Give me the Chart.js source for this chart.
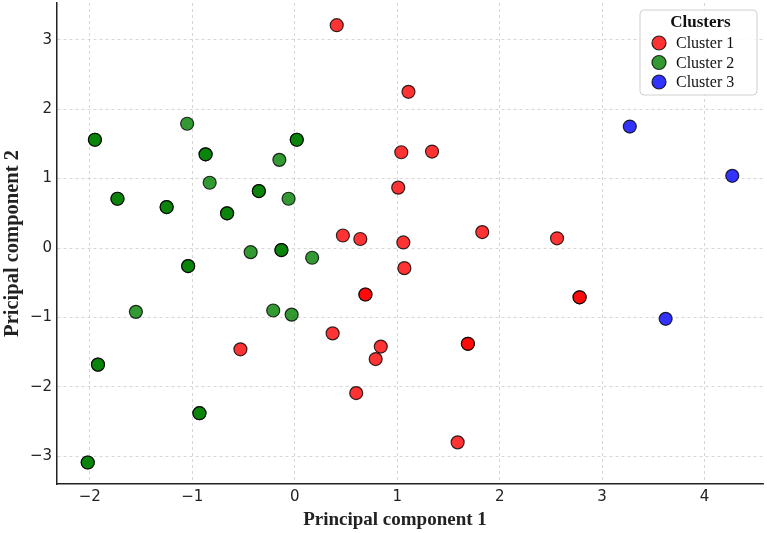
<!DOCTYPE html>
<html>
<head>
<meta charset="utf-8">
<script src="https://cdn.jsdelivr.net/npm/chart.js@4/dist/chart.umd.min.js"></script>
<style>
html,body{margin:0;padding:0;background:#fff;}
#wrap{width:767px;height:533px;position:relative;}
</style>
</head>
<body>
<div id="wrap"><canvas id="c" width="767" height="533"></canvas></div>
<script>
// Data (points that appear darker in the reference are overlapping duplicates)
const clusterLabels = ['Cluster 1', 'Cluster 2', 'Cluster 3'];
const cluster1X = [0.41, 1.11, 1.04, 1.34, 1.01, 0.47, 0.64, 1.06, 1.83, 2.56, 1.07, 0.37, 0.84, 0.79, 0.60, 1.59, -0.53, 0.69, 0.69, 2.78, 2.78, 1.69, 1.69];
const cluster1Y = [3.21, 2.25, 1.38, 1.39, 0.87, 0.18, 0.13, 0.08, 0.23, 0.14, -0.29, -1.23, -1.42, -1.60, -2.09, -2.80, -1.46, -0.67, -0.67, -0.71, -0.71, -1.38, -1.38];
const cluster2X = [-1.95, -1.95, -0.87, -0.87, 0.02, 0.02, -1.73, -1.73, -0.35, -0.35, -1.25, -1.25, -0.66, -0.66, -0.13, -0.13, -1.04, -1.04, -1.92, -1.92, -0.93, -0.93, -2.02, -2.02, -1.05, -0.15, -0.83, -0.06, -0.43, 0.17, -1.55, -0.21, -0.03];
const cluster2Y = [1.56, 1.56, 1.35, 1.35, 1.56, 1.56, 0.71, 0.71, 0.82, 0.82, 0.59, 0.59, 0.50, 0.50, -0.03, -0.03, -0.26, -0.26, -1.68, -1.68, -2.38, -2.38, -3.09, -3.09, 1.79, 1.27, 0.94, 0.71, -0.06, -0.14, -0.92, -0.90, -0.96];
const cluster3X = [3.27, 4.27, 3.62];
const cluster3Y = [1.75, 1.04, -1.02];
const xTicks = [-2, -1, 0, 1, 2, 3, 4];
const yTicks = [-3, -2, -1, 0, 1, 2, 3];
const xTitle = 'Principal component 1';
const yTitle = 'Pricipal component 2';
const legendTitle = 'Clusters';

const fills = ['rgba(255,0,0,0.8)', 'rgba(0,128,0,0.8)', 'rgba(0,0,255,0.8)'];
function pts(xs, ys){ return xs.map((x,i)=>({x:x, y:ys[i]})); }
const allX = [cluster1X, cluster2X, cluster3X];
const allY = [cluster1Y, cluster2Y, cluster3Y];

const datasets = clusterLabels.map((lab,i)=>({
  label: lab,
  data: pts(allX[i], allY[i]),
  backgroundColor: fills[i],
  borderColor: 'rgba(0,0,0,0.8)',
  borderWidth: 1.2,
  pointRadius: 6.5,
  pointHoverRadius: 6.5
}));

const minus = v => String(v).replace('-', '\u2212');

const legendBox = {
  id: 'legendBox',
  afterDraw(chart){
    const ctx = chart.ctx, a = chart.chartArea;
    const w = 117, h = 85;
    const x0 = a.right - w - 6, y0 = a.top + 7;
    ctx.save();
    ctx.beginPath();
    ctx.roundRect(x0, y0, w, h, 4);
    ctx.fillStyle = 'rgba(255,255,255,0.85)';
    ctx.fill();
    ctx.strokeStyle = '#cfcfcf';
    ctx.lineWidth = 1;
    ctx.stroke();
    ctx.fillStyle = '#111';
    ctx.font = 'bold 17px "Liberation Serif", serif';
    ctx.textAlign = 'center';
    ctx.textBaseline = 'middle';
    ctx.fillText(legendTitle, x0 + w/2 + 2, y0 + 13);
    ctx.font = '16px "Liberation Serif", serif';
    ctx.textAlign = 'left';
    chart.data.datasets.forEach((ds,i)=>{
      const cy = y0 + 33 + i*19.5;
      ctx.beginPath();
      ctx.arc(x0 + 19, cy, 7, 0, Math.PI*2);
      ctx.fillStyle = ds.backgroundColor;
      ctx.fill();
      ctx.strokeStyle = ds.borderColor;
      ctx.lineWidth = 1.2;
      ctx.stroke();
      ctx.fillStyle = '#111';
      ctx.fillText(ds.label, x0 + 36, cy + 1);
    });
    // x-axis title (slightly left of centre, as in the reference)
    ctx.font = 'bold 19px "Liberation Serif", serif';
    ctx.textAlign = 'center';
    ctx.fillStyle = '#222';
    ctx.fillText(xTitle, (a.left + a.right)/2 - 15, a.bottom + 36);
    ctx.restore();
  }
};

function noPad(s){ s.paddingTop = 0; s.paddingBottom = 0; s.paddingLeft = 0; s.paddingRight = 0; }

new Chart(document.getElementById('c'), {
  type: 'scatter',
  data: { datasets },
  plugins: [legendBox],
  options: {
    responsive: false,
    animation: false,
    layout: { autoPadding: false, padding: { top: 3, right: 4, left: 0, bottom: 0 } },
    plugins: { legend: { display: false }, tooltip: { enabled: false } },
    scales: {
      x: {
        type: 'linear',
        min: -2.32, max: 4.57,
        afterFit(s){ s.height = 49; noPad(s); },
        afterBuildTicks(s){ s.ticks = xTicks.map(v=>({value:v})); },
        ticks: { includeBounds: false, stepSize: 1, padding: 4, color: '#222',
          font: { family: '"DejaVu Sans", sans-serif', size: 15 },
          callback: v => minus(v) },
        grid: { color: '#cccccc', lineWidth: 0.8, drawTicks: false },
        border: { color: '#222', width: 1.5, dash: [3,3], display: true },
        title: { display: false }
      },
      y: {
        type: 'linear',
        min: -3.40, max: 3.53,
        afterFit(s){ s.width = 57; noPad(s); },
        afterBuildTicks(s){ s.ticks = yTicks.map(v=>({value:v})); },
        ticks: { includeBounds: false, stepSize: 1, padding: 5, color: '#222',
          font: { family: '"DejaVu Sans", sans-serif', size: 15 },
          callback: v => minus(v) },
        grid: { color: '#cccccc', lineWidth: 0.8, drawTicks: false },
        border: { color: '#222', width: 1.5, dash: [3,3], display: true },
        title: { display: true, text: yTitle, color: '#222', padding: { top: 0, bottom: 1 },
          font: { family: '"Liberation Serif", serif', size: 20.5, weight: 'bold' } }
      }
    }
  }
});
</script>
</body>
</html>
